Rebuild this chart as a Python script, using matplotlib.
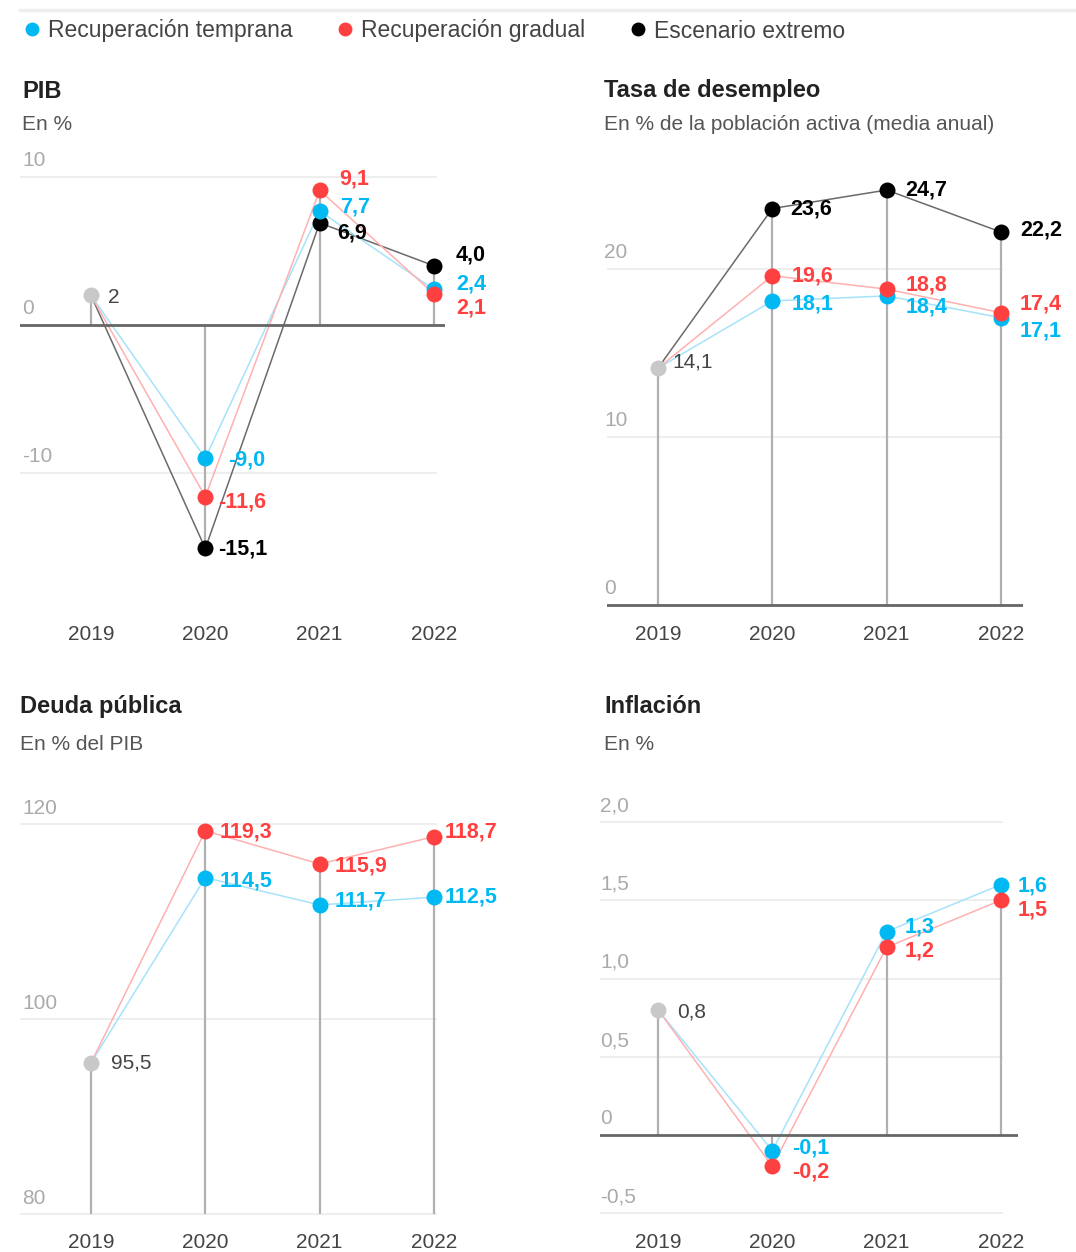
import matplotlib
matplotlib.use('Agg')
import matplotlib.pyplot as plt
from matplotlib.lines import Line2D

W, H = 1076, 1252
plt.rcParams['font.family'] = ['Liberation Sans', 'DejaVu Sans']

# ---------------- data ----------------
years = ['2019', '2020', '2021', '2022']
series_names = ['Recuperación temprana', 'Recuperación gradual', 'Escenario extremo']

pib_2019 = 2.0
pib_temprana = [-9.0, 7.7, 2.4]
pib_gradual = [-11.6, 9.1, 2.1]
pib_extremo = [-15.1, 6.9, 4.0]
pib_ticks = [10, 0, -10]
pib_ticklabels = ['10', '0', '-10']

paro_2019 = 14.1
paro_temprana = [18.1, 18.4, 17.1]
paro_gradual = [19.6, 18.8, 17.4]
paro_extremo = [23.6, 24.7, 22.2]
paro_ticks = [20, 10, 0]
paro_ticklabels = ['20', '10', '0']

deuda_2019 = 95.5
deuda_temprana = [114.5, 111.7, 112.5]
deuda_gradual = [119.3, 115.9, 118.7]
deuda_ticks = [120, 100, 80]
deuda_ticklabels = ['120', '100', '80']

infl_2019 = 0.8
infl_temprana = [-0.1, 1.3, 1.6]
infl_gradual = [-0.2, 1.2, 1.5]
infl_ticks = [2.0, 1.5, 1.0, 0.5, 0, -0.5]
infl_ticklabels = ['2,0', '1,5', '1,0', '0,5', '0', '-0,5']

# ---------------- style ----------------
BLUE, RED, BLACK = '#00b9f2', '#ff4040', '#000000'
LINE_COL = {BLUE: '#a6e3fa', RED: '#ffb0b0', BLACK: '#6a6a6a'}
GREY_DOT = '#c8c8c8'
STEM = '#b0b0b0'
GRID = '#ebebeb'
BASE = '#666666'

fig = plt.figure(figsize=(W / 100, H / 100), dpi=100)


def fmt(v):
    return f'{v:.1f}'.replace('.', ',')


def make_panel(box, x_first, x_last, yref):
    l, t, r, b = box
    ax = fig.add_axes([l / W, 1 - b / H, (r - l) / W, (b - t) / H])
    xs = (x_last - x_first) / 3
    ax.set_xlim(-(x_first - l) / xs, 3 + (r - x_last) / xs)
    (v1, p1), (v2, p2) = yref
    ys = (p1 - p2) / (v2 - v1)
    ax.set_ylim(v1 - (b - p1) / ys, v1 + (p1 - t) / ys)
    for s in ax.spines.values():
        s.set_visible(False)
    ax.set_yticks([])
    ax.set_xticks(range(len(years)), years)
    ax.tick_params(axis='x', length=0, pad=9, labelsize=15, labelcolor='#444444')
    ax.patch.set_alpha(0)
    px2x = lambda px: (px - x_first) / xs
    return ax, px2x


def draw(ax, px2x, v0, series, base, ticks, ticklabels, tick_px, grid_end,
         offsets, label0_off, draw_base=True):
    x0 = ax.get_xlim()[0]
    for tv, tl in zip(ticks, ticklabels):
        if tv == base and draw_base:
            ax.axhline(tv, color=BASE, lw=2, zorder=3)
        else:
            ax.hlines(tv, x0, px2x(grid_end), color=GRID, lw=1.2, zorder=0)
        ax.annotate(tl, xy=(px2x(tick_px), tv), xytext=(0, 16), textcoords='offset pixels',
                    ha='left', va='center', fontsize=15, color='#aaaaaa',
                    annotation_clip=False)
    # stems
    for i in range(4):
        vals = [v0] if i == 0 else [s[0][i - 1] for s in series]
        end = max(vals, key=lambda v: abs(v - base))
        ax.vlines(i, base, end, color=STEM, lw=1.6, zorder=1)
    # connecting lines
    for vals, col, key in series:
        ax.plot(range(4), [v0] + vals, color=LINE_COL[col], lw=1.1, zorder=2)
    # dots and labels
    for vals, col, key in series:
        ax.plot(range(1, 4), vals, 'o', color=col, ms=11.5, mec='none', zorder=4)
        for i, v in enumerate(vals):
            dx, dy = offsets[key][i]
            ax.annotate(fmt(v), xy=(i + 1, v), xytext=(dx, -dy), textcoords='offset pixels',
                        ha='left', va='center', fontsize=15.5, fontweight='bold', color=col,
                        zorder=6, annotation_clip=False)
    ax.plot([0], [v0], 'o', color=GREY_DOT, ms=11.5, mec='none', zorder=5)
    ax.annotate(f'{v0:g}'.replace('.', ','), xy=(0, v0), xytext=(label0_off[0], -label0_off[1]),
                textcoords='offset pixels', ha='left', va='center', fontsize=15, color='#444444',
                annotation_clip=False)


# ---- PIB ----
ax, p2x = make_panel((20, 150, 445, 612), 91, 434, ((0, 325), (10, 177)))
draw(ax, p2x, pib_2019,
     [(pib_extremo, BLACK, 'e'), (pib_temprana, BLUE, 't'), (pib_gradual, RED, 'g')],
     0, pib_ticks, pib_ticklabels, 22, 437,
     {'t': [(23, 2), (20, -4), (22, -5)],
      'g': [(13, 5), (20, -11), (22, 14)],
      'e': [(13, 1), (18, 10), (22, -11)]},
     (17, 2))

# ---- Tasa de desempleo ----
ax, p2x = make_panel((607, 150, 1023, 612), 658, 1001, ((0, 605), (20, 269)))
draw(ax, p2x, paro_2019,
     [(paro_extremo, BLACK, 'e'), (paro_temprana, BLUE, 't'), (paro_gradual, RED, 'g')],
     0, paro_ticks, paro_ticklabels, 604, 1003,
     {'t': [(19, 3), (19, 11), (19, 13)],
      'g': [(19, 0), (19, -4), (19, -9)],
      'e': [(18, 0), (19, 0), (19, -2)]},
     (14, -6))

# ---- Deuda pública ----
ax, p2x = make_panel((20, 790, 445, 1220), 91, 434, ((80, 1214), (120, 824)))
draw(ax, p2x, deuda_2019,
     [(deuda_temprana, BLUE, 't'), (deuda_gradual, RED, 'g')],
     80, deuda_ticks, deuda_ticklabels, 22, 437,
     {'t': [(14, 3), (15, -4), (11, 0)],
      'g': [(14, 1), (15, 2), (11, -5)]},
     (20, 0), draw_base=False)

# ---- Inflación ----
ax, p2x = make_panel((600, 790, 1018, 1220), 658, 1001, ((0, 1135), (2, 822)))
draw(ax, p2x, infl_2019,
     [(infl_temprana, BLUE, 't'), (infl_gradual, RED, 'g')],
     0, infl_ticks, infl_ticklabels, 600, 1003,
     {'t': [(20, -3), (18, -5), (17, 1)],
      'g': [(20, 6), (18, 4), (17, 10)]},
     (19, 2))

# ---- titles ----
titles = [('PIB', 'En %', 22, 91, 125),
          ('Tasa de desempleo', 'En % de la población activa (media anual)', 604, 91, 125),
          ('Deuda pública', 'En % del PIB', 20, 706, 744),
          ('Inflación', 'En %', 604, 706, 744)]
for t, st, x, y1, y2 in titles:
    fig.text(x / W, 1 - y1 / H, t, fontsize=17, fontweight='bold', color='#222222',
             ha='left', va='center')
    fig.text(x / W, 1 - y2 / H, st, fontsize=15, color='#555555', ha='left', va='center')

# ---- legend ----
fig.add_artist(Line2D([20 / W, 1], [1 - 10 / H, 1 - 10 / H], transform=fig.transFigure,
                      color='#eeeeee', lw=2.5))
handles = [Line2D([], [], marker='o', ls='', color=c, mec='none', ms=10) for c in (BLUE, RED, BLACK)]
fig.legend(handles, series_names, loc='center left', bbox_to_anchor=(24 / W, 1 - 31 / H),
           ncol=3, frameon=False, fontsize=16.5, handlelength=0.7, handletextpad=0.35,
           columnspacing=1.95, borderpad=0, borderaxespad=0, labelcolor='#444444')

fig.savefig('out.png', dpi=100)
